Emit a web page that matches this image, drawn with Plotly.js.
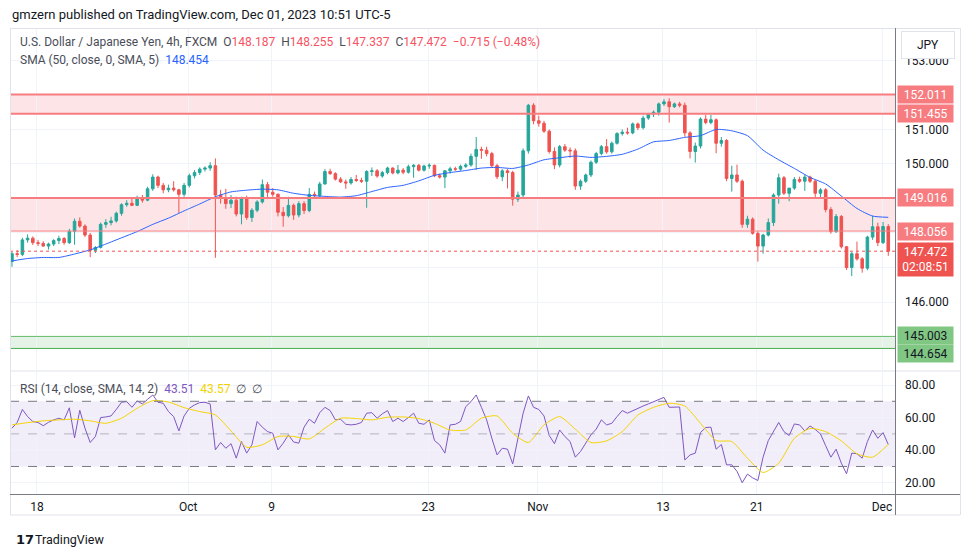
<!DOCTYPE html>
<html><head><meta charset="utf-8">
<script src="https://cdn.plot.ly/plotly-3.0.1.min.js"></script>
<style>html,body{margin:0;padding:0;background:#fff;}#chart{width:970px;height:557px;}</style>
</head><body><div id="chart"></div>
<script>
// ---- data (8-hour sampling of the 4h chart) ----
const barOpen = [147.17,147.40,147.38,147.80,147.85,147.72,147.70,147.62,147.68,147.78,
147.84,147.72,148.05,148.34,148.20,147.94,147.50,147.58,148.25,148.30,
148.35,148.57,148.82,148.86,148.80,149.02,148.95,149.28,149.62,149.38,
149.25,149.30,149.25,149.12,149.38,149.66,149.75,149.85,149.88,149.95,
149.10,149.02,148.85,148.95,148.55,149.00,148.45,148.66,148.90,149.40,
149.18,149.12,148.60,148.50,148.80,148.52,148.85,148.65,149.12,149.08,
149.42,149.78,149.72,149.56,149.48,149.45,149.55,149.52,149.50,149.78,
149.80,149.65,149.75,149.88,149.74,149.82,149.76,149.92,149.96,149.82,
149.94,149.96,149.66,149.62,149.80,149.86,149.85,149.93,149.97,150.22,
150.42,150.40,150.30,149.95,149.63,149.80,149.75,148.98,149.10,150.38,
151.70,151.25,151.18,150.95,150.36,149.97,150.50,150.40,150.38,149.36,
149.50,149.68,150.05,150.30,150.50,150.35,150.60,150.88,150.92,150.90,
151.16,151.05,151.33,151.45,151.50,151.74,151.80,151.66,151.74,151.70,
150.90,150.36,150.52,151.30,151.20,151.28,150.60,150.68,149.58,149.68,
149.50,148.25,148.40,147.99,147.62,147.94,148.30,149.10,149.60,149.15,
149.30,149.55,149.50,149.62,149.50,149.15,149.25,148.68,148.04,148.48,
147.60,147.00,147.40,147.25,146.98,147.88,148.18,147.72,148.187];
const barHigh = [147.45,147.50,147.86,147.96,147.90,147.80,147.76,147.72,147.82,147.92,
147.88,148.12,148.42,148.45,148.25,148.00,147.62,148.30,148.40,148.47,
148.62,148.86,148.95,149.02,149.08,149.10,149.34,149.70,149.66,149.45,
149.40,149.50,149.28,149.45,149.72,149.82,149.90,149.93,150.05,150.16,
149.25,149.28,149.10,149.05,149.05,149.08,148.72,148.95,149.55,149.48,
149.30,149.15,148.75,149.05,148.85,148.92,148.92,149.30,149.20,149.48,
149.85,149.86,149.76,149.62,149.55,149.62,149.68,149.60,149.82,149.90,
149.85,149.80,149.92,149.90,149.97,149.88,149.98,150.00,150.00,149.98,
150.02,149.98,149.72,149.82,149.92,149.92,149.98,150.02,150.30,150.78,
150.50,150.50,150.35,150.00,149.85,149.85,149.80,149.20,150.45,151.74,
151.76,151.40,151.25,151.00,150.48,150.55,150.58,150.48,150.45,149.55,
149.72,150.10,150.35,150.55,150.72,150.65,150.92,151.00,151.05,151.20,
151.20,151.40,151.48,151.55,151.78,151.88,151.90,151.78,151.80,151.78,
150.95,150.62,151.35,151.42,151.42,151.32,150.78,150.72,149.95,149.98,
149.55,148.50,148.45,148.05,147.98,148.42,149.15,149.72,149.65,149.30,
149.62,149.63,149.70,149.66,149.55,149.30,149.30,148.75,148.55,148.52,
147.62,147.45,147.75,147.30,147.92,148.50,148.30,148.32,148.255];
const barLow = [147.02,147.30,147.33,147.72,147.65,147.62,147.60,147.52,147.62,147.68,
147.66,147.68,147.66,148.15,147.88,147.30,147.42,147.55,148.15,148.22,
148.30,148.50,148.76,148.78,148.78,148.88,148.92,149.22,149.30,149.15,
149.18,149.20,148.58,149.05,149.32,149.58,149.68,149.78,149.80,147.28,
148.85,148.70,148.72,148.48,148.25,148.38,148.32,148.60,148.85,148.98,
149.05,148.48,148.18,148.45,148.38,148.45,148.55,148.60,149.00,149.02,
149.40,149.68,149.52,149.45,149.28,149.40,149.48,149.45,148.73,149.65,
149.60,149.60,149.70,149.70,149.70,149.70,149.72,149.60,149.78,149.78,
149.86,149.62,149.58,149.30,149.72,149.80,149.80,149.88,149.92,149.83,
150.15,150.22,149.88,149.56,149.50,149.29,148.79,148.90,149.00,150.30,
151.15,151.08,150.90,150.30,149.85,149.90,150.35,150.18,149.25,149.25,
149.45,149.62,150.00,150.25,150.30,150.30,150.56,150.82,150.85,150.86,
150.98,151.00,151.28,151.36,151.40,151.68,151.20,151.62,151.64,150.79,
150.16,150.04,150.45,151.15,151.15,150.31,150.50,149.50,149.20,149.45,
148.15,148.15,147.95,147.17,147.40,147.90,148.20,148.85,149.10,148.92,
149.25,149.45,149.22,149.45,149.02,149.00,148.60,147.98,148.00,147.55,
146.93,146.75,147.20,146.85,146.92,147.80,147.62,147.68,147.337];
const barClose = [147.40,147.38,147.80,147.85,147.72,147.70,147.62,147.68,147.78,147.84,
147.72,148.05,148.34,148.20,147.94,147.50,147.58,148.25,148.30,148.35,
148.57,148.82,148.86,148.80,149.02,148.95,149.28,149.62,149.38,149.25,
149.30,149.25,149.12,149.38,149.66,149.75,149.85,149.88,149.95,149.10,
149.02,148.85,148.95,148.55,149.00,148.45,148.66,148.90,149.40,149.18,
149.12,148.60,148.50,148.80,148.52,148.85,148.65,149.12,149.08,149.42,
149.78,149.72,149.56,149.48,149.45,149.55,149.52,149.50,149.78,149.80,
149.65,149.75,149.88,149.74,149.82,149.76,149.92,149.96,149.82,149.94,
149.96,149.66,149.62,149.80,149.86,149.85,149.93,149.97,150.22,150.42,
150.40,150.30,149.95,149.63,149.80,149.75,148.98,149.10,150.38,151.70,
151.25,151.18,150.95,150.36,149.97,150.50,150.40,150.38,149.36,149.50,
149.68,150.05,150.30,150.50,150.35,150.60,150.88,150.92,150.90,151.16,
151.05,151.33,151.45,151.50,151.74,151.80,151.66,151.74,151.70,150.90,
150.36,150.52,151.30,151.20,151.28,150.60,150.68,149.58,149.68,149.50,
148.25,148.40,147.99,147.62,147.94,148.30,149.10,149.60,149.15,149.30,
149.55,149.50,149.62,149.50,149.15,149.25,148.68,148.04,148.48,147.60,
147.00,147.40,147.25,146.98,147.88,148.18,147.72,148.187,147.472];
// SMA(50) smoothed, one value per trading day (every 3rd bar)
const smaValues = [147.19,147.26,147.29,147.29,147.39,147.51,147.68,147.86,148.04,148.25,
148.43,148.64,148.84,149.05,149.19,149.24,149.27,149.25,149.15,149.09,
149.06,149.04,149.08,149.20,149.32,149.38,149.51,149.67,149.75,149.81,
149.88,149.90,149.87,149.97,150.12,150.18,150.23,150.19,150.22,150.28,
150.43,150.64,150.68,150.77,150.82,151.00,150.96,150.82,150.40,150.12,
149.87,149.61,149.42,149.07,148.71,148.49,148.454];
const rsiValues = [53.5,57,65,60.6,57.6,57,55,57.1,58.6,59.6,
58.6,66,47.5,64.5,53.5,44.7,48.4,60,60.4,61,
65,69.4,69.8,66.3,70.2,68.4,71.2,73.9,69.4,68.8,
63.7,60.6,51.8,61,65.7,67.8,69.2,69.4,68.4,40.2,
44.7,41.2,44,35.1,45.3,38.2,43.3,57.6,54.1,51.4,
50.4,40.2,44.3,49.4,45,44.3,54.1,59,56.5,63,
66.3,64.3,58.6,59,55.9,55.5,55.9,57,62.7,63,
59.6,62.3,64.3,57.6,59.6,57.6,60,62.7,56.5,55.9,
58.6,45.9,43.3,38.2,55.5,55.9,57.6,66.7,69.8,73.9,
66.3,58.6,47.3,37.1,41.2,40.6,31.6,47.3,62.7,73.3,
66.3,65,61,49,44,52.4,48.4,45.3,35.7,39.2,
43.9,49.4,52.9,58.6,55.5,56.5,60.6,64.3,62.7,64.3,
65.7,67.1,68.4,69.8,70.8,72.4,66.3,66.3,66.5,34,
37.1,38.2,50.8,53.9,54.1,40.6,43.5,31,31,27,
20,25.3,23,21.4,35.7,45.9,51.4,57,51.4,49,
56.1,55.5,51.8,54.9,52.7,50,42.7,35.7,40.6,32,
25.5,38.2,37.8,35.1,45.3,52.4,47.3,50.8,43.51];
// RSI-based SMA, one value per trading day (every 3rd bar)
const rsiSmaValues = [55.5,56.9,58,58.6,59,58,56.5,59.6,65.7,70.4,
69.6,66.1,63.7,61.6,51.8,41.8,43.3,48.4,48.4,46.9,
53.5,59.6,59.4,58.6,60.2,60.4,59.4,56.5,52.4,52.4,
59.6,61,50.4,44.7,55.5,60.6,52.9,44.7,45.7,51.4,
61.6,66.3,68.8,67.1,56.5,45.9,45.3,35.1,26.3,32,
47.3,53.3,51.4,45.7,37.8,35.7,43.57];
const redZones = [[151.455,152.011],[148.056,149.016]];
const greenZone = [144.654,145.003];
const dateTickLabels = ['18','Oct','9','23','Nov','13','21','Dec'];
const dateTickDays = [0,9.667,15,25,32,40,46,54]; // trading days after Sep 18
const priceTicks = [144,145,146,147,148,149,150,151,152,153];
const priceTicksShown = [146,150,151,153];
const rsiTicks = [20,40,60,80];
const countdown = '02:08:51';
const firstBarDay = -1.6;   // first bar, trading days relative to Sep 18
const barStep = 1/3;        // 8 hours in trading days

// ---- styles / layout helpers ----
const UP='#26a69a', DOWN='#ef5350';
const PL=10, PR=895, PT=29, PB=494;
const pxX = v => (v-PL)/(PR-PL);
const pxY = v => (PB-v)/(PB-PT);
const FONT = 'Roboto, "Liberation Sans", Arial, sans-serif';

const xs = barClose.map((_, i) => firstBarDay + i*barStep);
const xsDay = smaValues.map((_, k) => firstBarDay + k*3*barStep);

const traces = [
  {type:'candlestick', x:xs, open:barOpen, high:barHigh, low:barLow, close:barClose,
   xaxis:'x', yaxis:'y', whiskerwidth:0, hoverinfo:'skip', showlegend:false,
   increasing:{line:{color:UP,width:1}, fillcolor:UP},
   decreasing:{line:{color:DOWN,width:1}, fillcolor:DOWN}},
  {type:'scatter', mode:'lines', x:xsDay, y:smaValues, xaxis:'x', yaxis:'y',
   line:{color:'#2962ff', width:1, shape:'spline', smoothing:0.6}, hoverinfo:'skip'},
  {type:'scatter', mode:'lines', x:xs, y:rsiValues, xaxis:'x', yaxis:'y2',
   line:{color:'#7e57c2', width:1}, hoverinfo:'skip'},
  {type:'scatter', mode:'lines', x:xsDay, y:rsiSmaValues, xaxis:'x', yaxis:'y2',
   line:{color:'#f5d400', width:1, shape:'spline', smoothing:0.6}, hoverinfo:'skip'}
];

const shapes = [];
const hline = (y, color, width, dash, yref) => ({type:'line', xref:'paper', x0:0, x1:1, yref:yref||'y', y0:y, y1:y, line:{color, width, dash:dash||'solid'}, layer:'above'});
// RSI band
shapes.push({type:'rect', xref:'paper', x0:0, x1:1, yref:'y2', y0:30, y1:70, fillcolor:'rgba(126,87,194,0.1)', line:{width:0}, layer:'below'});
shapes.push(hline(70,'#787b86',1,'dash','y2'));
shapes.push(hline(50,'rgba(120,123,134,0.5)',1,'dash','y2'));
shapes.push(hline(30,'#787b86',1,'dash','y2'));
// zones
redZones.forEach((z, i) => {
  shapes.push({type:'rect', xref:'paper', x0:0, x1:1, yref:'y', y0:z[0], y1:z[1], fillcolor:'rgba(242,54,69,0.13)', line:{width:0}, layer:'below'});
  shapes.push(hline(z[1], '#f77c80', 2));
  shapes.push(hline(z[0], '#f77c80', i===0 ? 2 : 1));
});
shapes.push({type:'rect', xref:'paper', x0:0, x1:1, yref:'y', y0:greenZone[0], y1:greenZone[1], fillcolor:'rgba(76,175,80,0.15)', line:{width:0}, layer:'below'});
shapes.push(hline(greenZone[1], '#66bb6a', 1));
shapes.push(hline(greenZone[0], '#4caf50', 1));
const lastClose = barClose[barClose.length-1];
shapes.push(hline(lastClose, '#ef5350', 1, 'dot'));
// frame and separators
const seg = (x0,y0,x1,y1,color) => ({type:'line', xref:'paper', yref:'paper', x0:pxX(x0), x1:pxX(x1), y0:pxY(y0), y1:pxY(y1), line:{color, width:1}, layer:'above'});
shapes.push(seg(10,28.5,960,28.5,'#e0e3eb'));
shapes.push(seg(10.5,28,10.5,515,'#e0e3eb'));
shapes.push(seg(960.5,28,960.5,515,'#e0e3eb'));
shapes.push(seg(10,515,960,515,'#e0e3eb'));
shapes.push(seg(10,371,960,371,'#e0e3eb'));
shapes.push(seg(895.5,28,895.5,515,'#787b86'));
shapes.push(seg(10,494.5,960,494.5,'#787b86'));

// annotations
const ann = [];
const txt = (x, y, text, size, color, extra) => Object.assign({xref:'paper', yref:'paper', x:pxX(x), y:pxY(y), xanchor:'left', yanchor:'middle', text, showarrow:false, font:{family:FONT, size:size, color:color}}, extra||{});
ann.push(txt(10, 14, 'gmzern published on TradingView.com, Dec 01, 2023 10:51 UTC-5', 13, '#131722'));
const n = barClose.length-1;
const prev = barClose[n-1];
const chg = barClose[n]-prev;
const pct = chg/prev*100;
const fmtS = v => (v<0?'\u2212':'+') + Math.abs(v).toFixed(3);
const RED = '#f7525f';
const sp = '\u00a0\u00a0';
const red = s => '<span style="color:'+RED+'">'+s+'</span>';
ann.push(txt(18, 42, 'U.S. Dollar / Japanese Yen, 4h, FXCM'+sp+'O'+red(barOpen[n].toFixed(3))+sp+'H'+red(barHigh[n].toFixed(3))+sp+'L'+red(barLow[n].toFixed(3))+sp+'C'+red(barClose[n].toFixed(3))+sp+red(fmtS(chg)+' ('+(pct<0?'\u2212':'+')+Math.abs(pct).toFixed(2)+'%)'), 12, '#4a4d57'));
ann.push(txt(18, 60, 'SMA (50, close, 0, SMA, 5)'+sp+'<span style="color:#2962ff">'+smaValues[smaValues.length-1].toFixed(3)+'</span>', 12, '#4a4d57'));
ann.push(txt(18, 389, 'RSI (14, close, SMA, 14, 2)'+sp+'<span style="color:#7e57c2">'+rsiValues[rsiValues.length-1].toFixed(2)+'</span>'+sp+'<span style="color:#f2d300">'+rsiSmaValues[rsiSmaValues.length-1].toFixed(2)+'</span>'+sp+'\u2205'+sp+'\u2205', 12, '#4a4d57'));
// price labels on the right scale
const priceLabel = (v, bg, fg, text, extra) => Object.assign({xref:'paper', yref:'y', x:1, y:v, xanchor:'left', yanchor:'middle', xshift:2, text:text||v.toFixed(3), showarrow:false, bgcolor:bg, borderpad:2, width:51, height:13, align:'center', font:{family:FONT, size:12, color:fg}}, extra||{});
redZones.forEach(z => { ann.push(priceLabel(z[1], '#f77c80', '#ffffff')); ann.push(priceLabel(z[0], '#f77c80', '#ffffff')); });
ann.push(priceLabel(greenZone[1], '#81c784', '#131722', null, {yshift:1}));
ann.push(priceLabel(greenZone[0], '#81c784', '#131722', null, {yshift:-5}));
ann.push(priceLabel(lastClose, '#ef5350', '#ffffff', lastClose.toFixed(3)+'<br>'+countdown, {yanchor:'top', yshift:9, height:29}));
// JPY button
ann.push({xref:'paper', yref:'paper', x:pxX(928), y:pxY(45), xanchor:'center', yanchor:'middle', text:'JPY', showarrow:false, bgcolor:'#ffffff', bordercolor:'#e0e3eb', borderwidth:1, borderpad:4, width:44, height:18, font:{family:FONT, size:12, color:'#131722'}});
// logo
ann.push(txt(14, 539, '<b>17</b>', 13, '#131722', {font:{family:'"DejaVu Sans", sans-serif', size:13, color:'#131722'}}));
ann.push(txt(33, 539, 'TradingView', 12.5, '#131722'));

const layout = {
  width:970, height:557, paper_bgcolor:'#ffffff', plot_bgcolor:'#ffffff',
  margin:{l:PL, r:970-PR, t:PT, b:557-PB}, showlegend:false, hovermode:false,
  font:{family:FONT, size:12, color:'#131722'},
  xaxis:{anchor:'y2', range:[-1.725,54.83], tickvals:dateTickDays, ticktext:dateTickLabels,
    showgrid:true, gridcolor:'#f0f3fa', zeroline:false, showline:false, ticks:'',
    ticklabelstandoff:4, rangeslider:{visible:false}, tickfont:{family:FONT, size:12, color:'#131722'}},
  yaxis:{domain:[pxY(370),1], anchor:'x', side:'right', range:[144.03,153.91],
    tickvals:priceTicks, ticktext:priceTicks.map(v => priceTicksShown.includes(v) ? v.toFixed(3) : ''),
    showgrid:true, gridcolor:'#f0f3fa', zeroline:false, showline:false, ticks:'', ticklabelstandoff:9,
    tickfont:{family:FONT, size:12, color:'#131722'}},
  yaxis2:{domain:[0,pxY(372)], anchor:'x', side:'right', range:[13.1,87.98],
    tickvals:rsiTicks, ticktext:rsiTicks.map(v => v.toFixed(2)),
    showgrid:true, gridcolor:'#f0f3fa', zeroline:false, showline:false, ticks:'', ticklabelstandoff:9,
    tickfont:{family:FONT, size:12, color:'#131722'}},
  shapes, annotations:ann
};
Plotly.newPlot('chart', traces, layout, {staticPlot:true, displayModeBar:false});
</script></body></html>
